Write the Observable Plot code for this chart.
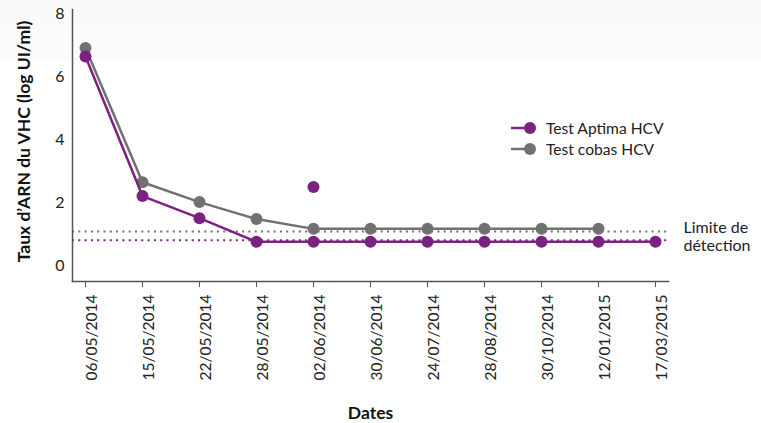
<!DOCTYPE html>
<html><head><meta charset="utf-8">
<script src="https://cdn.jsdelivr.net/npm/d3@7"></script>
<script src="https://cdn.jsdelivr.net/npm/@observablehq/plot@0.6"></script>
<style>
body{margin:0;background:#fff;font-family:Lato,"Open Sans",sans-serif}
#wrap{position:relative;width:761px;height:423px;background:linear-gradient(#fafafa 0,#fafafa 28px,#fcfcfc 28px,#fcfcfc 60px,#fff 60px)}
#wrap > svg{position:absolute;left:0;top:0}
.legend{position:absolute;left:510px;top:118px;font-size:15.6px;color:#222;line-height:20.5px}
.legend div{display:flex;align-items:center;height:20.5px}
.legend svg{margin-right:8px}
</style></head><body>
<div id="wrap"></div>
<script>
const dates = ["06/05/2014","15/05/2014","22/05/2014","28/05/2014","02/06/2014","30/06/2014","24/07/2014","28/08/2014","30/10/2014","12/01/2015","17/03/2015"];
const aptima = [6.66,2.23,1.53,0.78,0.78,0.78,0.78,0.78,0.78,0.78,0.78];
const cobas  = [6.93,2.67,2.04,1.5,1.19,1.19,1.19,1.19,1.19,1.19,null];
const aptimaExtraDates = ["02/06/2014"];
const aptimaExtraValues = [2.52];
const limitAptima = 0.83;
const limitCobas = 1.11;
const seriesNames = ["Test Aptima HCV","Test cobas HCV"];
const colors = ["#7b2281","#717171"];
const yTicks = [0,2,4,6,8];
const yLabel = "Taux d’ARN du VHC (log UI/ml)";
const xLabel = "Dates";

const cobasData = dates.map((d,i)=>({date:d,value:cobas[i]})).filter(d=>d.value!=null);
const aptimaData = dates.map((d,i)=>({date:d,value:aptima[i]}));
const extraData = aptimaExtraDates.map((d,i)=>({date:d,value:aptimaExtraValues[i]}));

const plot = Plot.plot({
  width:761, height:423,
  marginLeft:72, marginRight:93, marginTop:9, marginBottom:142,
  style:{background:"transparent", fontFamily:"Lato, 'Open Sans', sans-serif", fontSize:"15.5px", color:"#222"},
  x:{type:"point", domain:dates, padding:0.22},
  y:{domain:[-0.48,8.15]},
  marks:[
    Plot.ruleY([limitCobas],{stroke:colors[1],strokeWidth:2,strokeDasharray:"2,4.3"}),
    Plot.ruleY([limitAptima],{stroke:colors[0],strokeWidth:2,strokeDasharray:"2,4.3"}),
    Plot.frame({anchor:"left",stroke:"#555",strokeWidth:1.5}),
    Plot.frame({anchor:"bottom",stroke:"#555",strokeWidth:1.5}),
    Plot.axisY({ticks:yTicks, tickSize:0, tickPadding:8, tickFormat:d=>String(d), fontSize:16, label:yLabel, labelArrow:"none", labelAnchor:"center", labelOffset:55}),
    Plot.axisX({tickSize:6, tickPadding:7, tickRotate:-90, stroke:"#555", label:xLabel, labelArrow:"none", labelAnchor:"center", labelOffset:137}),
    Plot.line(cobasData,{x:"date",y:"value",stroke:colors[1],strokeWidth:2.5}),
    Plot.dot(cobasData,{x:"date",y:"value",fill:colors[1],r:6}),
    Plot.line(aptimaData,{x:"date",y:"value",stroke:colors[0],strokeWidth:2.5}),
    Plot.dot(aptimaData,{x:"date",y:"value",fill:colors[0],r:6}),
    Plot.dot(extraData,{x:"date",y:"value",fill:colors[0],r:6}),
    Plot.text(["Limite de\ndétection"],{y:[(limitAptima+limitCobas)/2],frameAnchor:"right",dx:15,textAnchor:"start",lineAnchor:"middle",fontSize:16,fill:"#222",lineHeight:1.15})
  ]
});
document.getElementById("wrap").appendChild(plot);
const sel = d3.select(plot);
sel.selectAll("g[aria-label='y-axis tick label'] text, g[aria-label='x-axis tick label'] text").attr("fill","#222");
sel.selectAll("g[aria-label='x-axis tick label'] text").attr("dy","0.42em");
sel.selectAll("g[aria-label='y-axis label'] text").text(yLabel).attr("dx",4);
sel.selectAll("g[aria-label='x-axis label'] text").text(xLabel);
sel.selectAll("g[aria-label='y-axis label'], g[aria-label='x-axis label']").attr("font-size",null).attr("font-weight",null);
sel.selectAll("g[aria-label='y-axis label'] text, g[aria-label='x-axis label'] text").attr("font-weight","700").attr("font-size","17.5px").style("font-weight","700").style("font-size","17.5px").attr("fill","#111");

const lg = d3.select("#wrap").append("div").attr("class","legend");
seriesNames.forEach((n,i)=>{
  const row = lg.append("div");
  const s = row.append("svg").attr("width",28).attr("height",14);
  s.append("line").attr("x1",1).attr("x2",20).attr("y1",7).attr("y2",7).attr("stroke",colors[i]).attr("stroke-width",2.5);
  s.append("circle").attr("cx",20).attr("cy",7).attr("r",6).attr("fill",colors[i]);
  row.append("span").text(n);
});
</script>
</body></html>
